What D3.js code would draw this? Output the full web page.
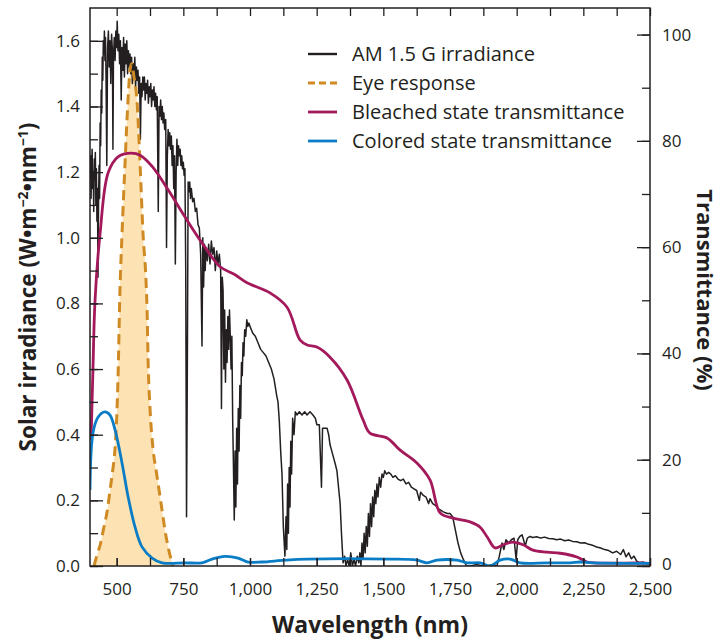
<!DOCTYPE html>
<html><head><meta charset="utf-8">
<script src="https://cdn.jsdelivr.net/npm/d3@7"></script>
<style>
body{margin:0;background:#fff;}
text{font-family:"Open Sans","Noto Sans",sans-serif;fill:#231f20;}
</style></head>
<body><svg id="c" width="721" height="641"></svg>
<script>
// ---------- DATA ----------
const amWavelength = [400,402,404,406,408,410,412,414,416,418,420,422,424,426,428,430,432,434,436,438,440,442,444,446,448,450,452,454,456,458,460,463,466,469,472,475,478,481,484,486,488,491,494,497,500,502,505,508,511,514,517,520,523,526,529,532,535,538,541,544,547,550,553,556,559,562,565,568,571,574,577,580,583,586,589,592,595,598,601,604,607,610,613,616,619,622,625,628,631,634,637,640,643,646,649,652,656,659,662,665,668,671,674,677,680,684,687,690,693,696,699,702,705,708,711,714,717,720,723,726,729,732,735,738,741,744,747,750,753,756,759,762,765,768,771,774,777,780,785,790,795,800,805,810,815,820,823,826,829,832,835,840,845,850,855,860,865,870,875,880,885,890,893,896,899,902,905,908,911,914,917,920,923,926,929,932,935,938,941,944,947,950,953,956,959,962,965,968,971,974,977,980,984,988,992,996,1000,1010,1020,1030,1040,1050,1060,1070,1080,1090,1100,1105,1110,1115,1120,1125,1131,1135,1138,1141,1144,1147,1150,1153,1156,1160,1165,1170,1176,1185,1195,1205,1214,1225,1236,1245,1251,1260,1268,1272,1280,1289,1295,1300,1310,1320,1326,1332,1338,1343,1349,1355,1360,1366,1372,1378,1384,1390,1396,1402,1408,1412,1416,1420,1424,1428,1432,1436,1440,1444,1448,1452,1456,1460,1464,1468,1472,1476,1480,1485,1490,1495,1500,1505,1512,1520,1528,1536,1545,1555,1565,1575,1585,1595,1605,1615,1625,1635,1640,1650,1660,1670,1675,1685,1695,1705,1715,1725,1740,1750,1760,1770,1780,1790,1800,1812,1830,1850,1870,1890,1910,1926,1935,1945,1952,1960,1970,1980,1990,1998,2004,2012,2020,2026,2032,2040,2050,2060,2075,2090,2105,2120,2135,2150,2165,2180,2195,2210,2225,2240,2255,2270,2285,2300,2315,2330,2345,2360,2375,2390,2400,2410,2420,2430,2440,2450,2460,2475,2490,2500];
const amIrradiance = [1.18,1.25,1.12,1.22,1.27,1.15,1.20,1.08,1.24,1.18,1.26,1.10,1.21,1.05,1.15,0.88,1.10,1.22,1.12,1.35,1.28,1.45,1.38,1.55,1.48,1.60,1.56,1.63,1.54,1.61,1.50,1.22,1.58,1.63,1.52,1.60,1.47,1.62,1.57,1.27,1.55,1.61,1.54,1.63,1.58,1.66,1.57,1.62,1.53,1.60,1.42,1.58,1.51,1.61,1.49,1.59,1.53,1.60,1.50,1.57,1.52,1.56,1.50,1.55,1.47,1.53,1.49,1.55,1.46,1.52,1.48,1.51,1.44,1.49,1.30,1.47,1.43,1.49,1.45,1.49,1.42,1.47,1.44,1.48,1.41,1.46,1.43,1.47,1.40,1.45,1.42,1.46,1.40,1.44,1.39,1.43,1.08,1.40,1.37,1.42,1.36,1.40,1.35,1.38,1.33,1.36,0.97,1.25,1.33,1.28,1.32,1.27,1.31,1.22,1.28,1.15,1.25,0.92,1.20,1.30,1.22,1.28,1.25,1.27,1.22,1.25,1.21,1.23,1.19,1.21,0.90,0.15,0.60,1.17,1.14,1.17,1.12,1.15,1.11,1.12,1.08,1.09,1.04,1.03,0.95,0.67,1.00,0.85,0.98,0.90,0.97,0.93,0.98,0.92,0.99,0.95,0.97,0.90,0.96,0.92,0.95,0.90,0.48,0.88,0.84,0.60,0.78,0.56,0.72,0.62,0.76,0.66,0.78,0.70,0.60,0.70,0.45,0.30,0.14,0.35,0.18,0.42,0.25,0.48,0.35,0.55,0.45,0.62,0.58,0.68,0.64,0.72,0.70,0.75,0.73,0.74,0.73,0.71,0.70,0.68,0.66,0.65,0.64,0.62,0.60,0.57,0.52,0.50,0.44,0.35,0.28,0.12,0.03,0.15,0.05,0.25,0.10,0.30,0.18,0.38,0.28,0.45,0.40,0.47,0.46,0.47,0.46,0.47,0.46,0.47,0.46,0.45,0.43,0.43,0.24,0.42,0.42,0.42,0.40,0.37,0.34,0.31,0.29,0.24,0.19,0.10,0.01,0.03,0.0,0.02,0.0,0.04,0.0,0.02,0.0,0.03,0.01,0.04,0.0,0.07,0.02,0.10,0.04,0.12,0.06,0.16,0.09,0.19,0.12,0.21,0.15,0.23,0.19,0.25,0.21,0.27,0.24,0.28,0.27,0.29,0.28,0.285,0.28,0.27,0.275,0.265,0.26,0.265,0.25,0.255,0.24,0.235,0.23,0.20,0.225,0.215,0.21,0.19,0.205,0.19,0.185,0.175,0.17,0.165,0.16,0.16,0.15,0.11,0.07,0.04,0.02,0.0,0.0,0.005,0.0,0.0,0.005,0.0,0.03,0.07,0.05,0.08,0.07,0.08,0.085,0.02,0.08,0.09,0.095,0.08,0.06,0.085,0.09,0.087,0.089,0.085,0.088,0.084,0.083,0.08,0.082,0.077,0.079,0.075,0.074,0.07,0.071,0.066,0.063,0.058,0.055,0.05,0.047,0.04,0.045,0.035,0.05,0.028,0.04,0.022,0.03,0.015,0.01,0.012,0.006,0.005];

const eyeWavelength = [415,425,440,450,465,475,485,494,500,505,512,520,531,540,550,556,565,576,588,599,610,614,618,625,636,650,663,672,681,695,711];
const eyeResponse   = [0,0.03,0.07,0.11,0.17,0.23,0.29,0.36,0.45,0.57,0.83,1.01,1.22,1.38,1.51,1.53,1.49,1.42,1.22,1.01,0.87,0.78,0.62,0.48,0.36,0.28,0.21,0.16,0.11,0.05,0];

const bleachedWavelength = [404,411,419,438,468,505,554,588,633,693,756,820,888,944,989,1075,1139,1188,1214,1251,1300,1364,1424,1450,1514,1563,1626,1675,1713,1761,1825,1863,1889,1919,1949,1986,2024,2061,2114,2163,2226,2264,2301,2463,2500];
const bleachedT = [23.7,36.9,50.1,62.7,74.0,77.0,77.7,77.3,75.2,70.8,65.7,60.8,56.3,54.8,53.3,51.4,48.7,42.5,41.6,41.2,39.3,35.0,27.5,25.0,24.1,21.8,19.4,16.2,10.0,9.0,8.3,7.3,5.5,3.4,4.0,4.5,4.0,3.0,2.6,2.4,1.7,0.75,0.56,0.56,0.5];

const coloredWavelength = [400,411,430,456,475,494,520,543,569,595,633,670,756,820,858,906,955,993,1045,1131,1214,1525,1626,1664,1701,1776,1814,1863,1900,1938,1975,2013,2114,2200,2238,2286,2500];
const coloredT = [14.3,25.0,28.0,29.0,28.4,25.6,19.4,13.0,7.3,3.6,1.5,0.6,0.6,0.6,1.3,1.8,1.5,0.75,0.75,1.1,1.3,1.3,1.1,0.6,1.1,1.1,0.6,0.6,0.0,1.1,1.3,0.6,0.6,0.6,0.75,0.6,0.5];

const xTickLabels = [500,750,1000,1250,1500,1750,2000,2250,2500];
const leftTickLabels = [0,0.2,0.4,0.6,0.8,1.0,1.2,1.4,1.6];
const rightTickLabels = [0,20,40,60,80,100];
const legendLabels = ["AM 1.5 G irradiance","Eye response","Bleached state transmittance","Colored state transmittance"];

// ---------- LAYOUT ----------
const L=90,R=650,T=8,B=566;
const svg=d3.select("#c");
const x=d3.scaleLinear().domain([400,2500]).range([L,R]);
const yL=d3.scaleLinear().domain([0,1.7]).range([B,T]);
const yR=d3.scaleLinear().domain([0,105]).range([B,T]);

const colors={am:"#231f20",eye:"#cf8a24",fill:"#fde3b3",bl:"#a3195b",co:"#0a7dc6"};

svg.append("defs").append("clipPath").attr("id","clip").append("rect")
  .attr("x",L).attr("y",T).attr("width",R-L).attr("height",B-T);
const g=svg.append("g").attr("clip-path","url(#clip)");

const eyePts=eyeWavelength.map((w,i)=>[w,eyeResponse[i]]);
g.append("path").datum(eyePts)
  .attr("d",d3.area().x(d=>x(d[0])).y0(B).y1(d=>yL(d[1])).curve(d3.curveMonotoneX))
  .attr("fill",colors.fill);

const amPts=amWavelength.map((w,i)=>[w,amIrradiance[i]]);
g.append("path").datum(amPts)
  .attr("d",d3.line().x(d=>x(d[0])).y(d=>yL(d[1])))
  .attr("fill","none").attr("stroke",colors.am).attr("stroke-width",1.5).attr("stroke-linejoin","round");

g.append("path").datum(eyePts)
  .attr("d",d3.line().x(d=>x(d[0])).y(d=>yL(d[1])).curve(d3.curveMonotoneX))
  .attr("fill","none").attr("stroke",colors.eye).attr("stroke-width",3).attr("stroke-dasharray","10,6");

const blPts=bleachedWavelength.map((w,i)=>[w,bleachedT[i]]);
g.append("path").datum(blPts)
  .attr("d",d3.line().x(d=>x(d[0])).y(d=>yR(d[1])).curve(d3.curveCatmullRom))
  .attr("fill","none").attr("stroke",colors.bl).attr("stroke-width",2.8);

const coPts=coloredWavelength.map((w,i)=>[w,coloredT[i]]);
g.append("path").datum(coPts)
  .attr("d",d3.line().x(d=>x(d[0])).y(d=>yR(d[1])).curve(d3.curveCatmullRom))
  .attr("fill","none").attr("stroke",colors.co).attr("stroke-width",2.8);

// ---------- AXES ----------
const axStyle=sel=>{sel.select(".domain").remove();sel.selectAll("line").attr("stroke","#231f20").attr("stroke-width",1.3);
  sel.selectAll("text").attr("font-size",17).style("fill","#231f20").attr("font-family","Open Sans, sans-serif");};
const minorX=d3.range(500,2501,125);
svg.append("g").attr("transform",`translate(0,${B})`).call(d3.axisBottom(x).tickValues(minorX).tickSize(-8).tickFormat("")).call(axStyle);
svg.append("g").attr("transform",`translate(0,${B})`).call(d3.axisBottom(x).tickValues(xTickLabels).tickSize(-8).tickPadding(17).tickFormat(d3.format(","))).call(axStyle);
svg.append("g").attr("transform",`translate(0,${T})`).call(d3.axisTop(x).tickValues(minorX).tickSize(-8).tickFormat("")).call(axStyle);

const minorL=d3.range(0,17).map(i=>i/10);
svg.append("g").attr("transform",`translate(${L},0)`).call(d3.axisLeft(yL).tickValues(minorL).tickSize(-8).tickFormat("")).call(axStyle);
svg.append("g").attr("transform",`translate(${L},0)`).call(d3.axisLeft(yL).tickValues(leftTickLabels).tickSize(-13).tickPadding(10).tickFormat(d3.format(".1f"))).call(axStyle);

const minorR=d3.range(0,101,10);
svg.append("g").attr("transform",`translate(${R},0)`).call(d3.axisRight(yR).tickValues(minorR).tickSize(-8).tickFormat("")).call(axStyle);
const rAx=svg.append("g").attr("transform",`translate(${R},0)`).call(d3.axisRight(yR).tickValues(rightTickLabels).tickSize(-13).tickPadding(12).tickFormat(d3.format("d"))).call(axStyle);
rAx.selectAll(".tick").filter(d=>d===0).select("text").attr("dy","0.2em");

svg.append("rect").attr("x",L).attr("y",T).attr("width",R-L).attr("height",B-T)
  .attr("fill","none").attr("stroke","#231f20").attr("stroke-width",1.5);

// ---------- TITLES ----------
svg.append("text").attr("x",370).attr("y",633).attr("text-anchor","middle")
  .attr("font-size",23).attr("font-weight","bold").text("Wavelength (nm)");
const lt=svg.append("text").attr("transform",`translate(36,287) rotate(-90)`).attr("text-anchor","middle")
  .attr("font-size",22.5).attr("font-weight","bold");
lt.append("tspan").text("Solar irradiance (W•m");
lt.append("tspan").attr("dy",-8).attr("font-size",14).text("−2");
lt.append("tspan").attr("dy",8).text("•nm");
lt.append("tspan").attr("dy",-8).attr("font-size",14).text("−1");
lt.append("tspan").attr("dy",8).text(")");
svg.append("text").attr("transform",`translate(697,290) rotate(90)`).attr("text-anchor","middle")
  .attr("font-size",22).attr("font-weight","bold").text("Transmittance (%)");

// ---------- LEGEND ----------
const legY=[54,83,112,141];
const legStyles=[{c:colors.am,d:null},{c:colors.eye,d:"7,4"},{c:colors.bl,d:null},{c:colors.co,d:null}];
legendLabels.forEach((t,i)=>{
  svg.append("line").attr("x1",308).attr("x2",337).attr("y1",legY[i]).attr("y2",legY[i])
    .attr("stroke",legStyles[i].c).attr("stroke-width",i===0?2.4:2.8).attr("stroke-dasharray",legStyles[i].d);
  svg.append("text").attr("x",352).attr("y",legY[i]+7).attr("font-size",20).text(t);
});
</script></body></html>
